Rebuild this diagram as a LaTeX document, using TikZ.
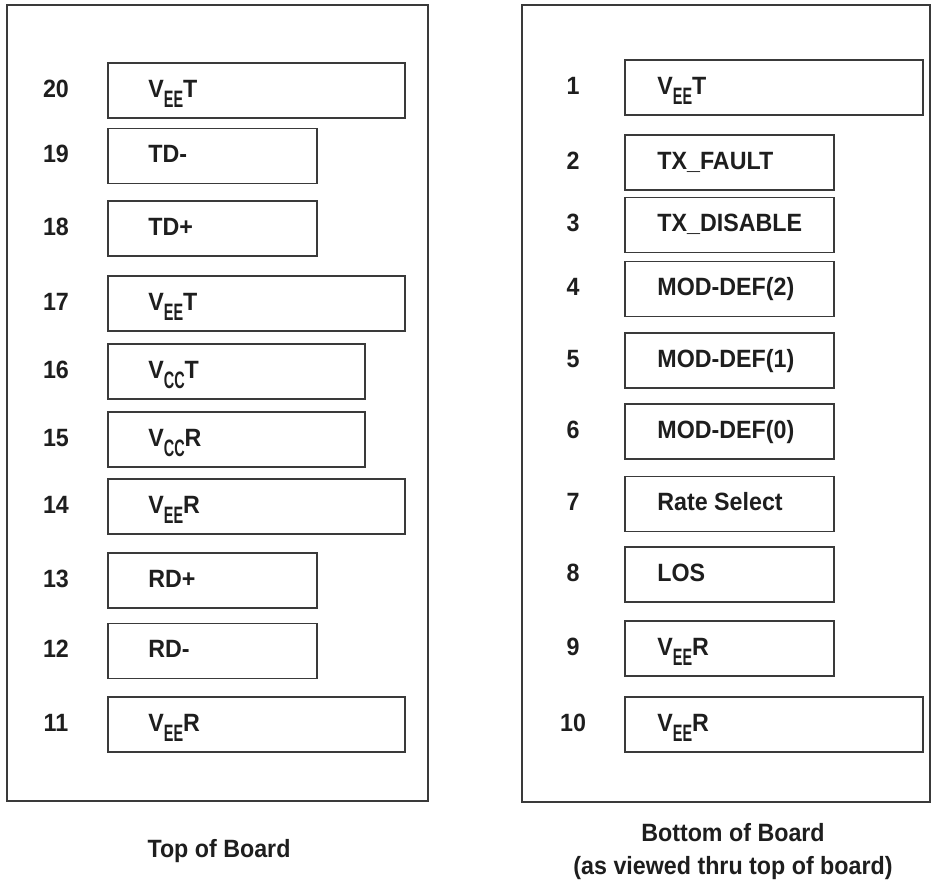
\documentclass[tikz,border=0pt]{standalone}
\usepackage{fontspec}
\setmainfont{Liberation Sans}[FakeStretch=0.93]
\usepackage{graphicx}

\definecolor{inkgray}{HTML}{1E1E1E}
\definecolor{linegray}{HTML}{3A3A3A}

\newcommand{\pinsub}[1]{\raisebox{-5pt}{\scalebox{0.62}[0.95]{#1}}}

\tikzset{
  board/.style={draw=linegray,line width=1pt},
  pinbox/.style={draw=linegray,line width=0.8pt,rectangle,anchor=west,minimum height=27.5pt,inner sep=0pt},
  pinname/.style={anchor=base west,inner sep=0pt,text=inkgray,font=\fontsize{12.5}{15}\selectfont\bfseries},
  pinnum/.style={anchor=base,inner sep=0pt,text=inkgray,font=\fontsize{12.5}{15}\selectfont\bfseries},
  caption/.style={anchor=base,inner sep=0pt,text=inkgray,font=\fontsize{12.5}{15}\selectfont\bfseries}
}

\begin{document}
\begin{tikzpicture}[x=0.5pt,y=-0.5pt]
\useasboundingbox (0,0) rectangle (932,886);

% the two boards
\draw[board] (7,5) rectangle (428,801);
\draw[board] (522,5) rectangle (930,802);

% top of board, pins 20 .. 11
\node[pinbox,minimum width=148.5pt] (p20) at (107,90.5) {};
\node[pinbox,minimum width=104.5pt] (p19) at (107,156) {};
\node[pinbox,minimum width=104.5pt] (p18) at (107,228.5) {};
\node[pinbox,minimum width=148.5pt] (p17) at (107,303.5) {};
\node[pinbox,minimum width=128.5pt] (p16) at (107,371.5) {};
\node[pinbox,minimum width=128.5pt] (p15) at (107,439.5) {};
\node[pinbox,minimum width=148.5pt] (p14) at (107,506.5) {};
\node[pinbox,minimum width=104.5pt] (p13) at (107,580.5) {};
\node[pinbox,minimum width=104.5pt] (p12) at (107,651) {};
\node[pinbox,minimum width=148.5pt] (p11) at (107,724.5) {};

\node[pinnum] (n20) at ([xshift=-25.5pt,yshift=-3.5pt]p20.west) {20};
\node[pinnum] (n19) at ([xshift=-25.5pt,yshift=-3.5pt]p19.west) {19};
\node[pinnum] (n18) at ([xshift=-25.5pt,yshift=-3.5pt]p18.west) {18};
\node[pinnum] (n17) at ([xshift=-25.5pt,yshift=-3.5pt]p17.west) {17};
\node[pinnum] (n16) at ([xshift=-25.5pt,yshift=-3.5pt]p16.west) {16};
\node[pinnum] (n15) at ([xshift=-25.5pt,yshift=-3.5pt]p15.west) {15};
\node[pinnum] (n14) at ([xshift=-25.5pt,yshift=-3.5pt]p14.west) {14};
\node[pinnum] (n13) at ([xshift=-25.5pt,yshift=-3.5pt]p13.west) {13};
\node[pinnum] (n12) at ([xshift=-25.5pt,yshift=-3.5pt]p12.west) {12};
\node[pinnum] (n11) at ([xshift=-25.5pt,yshift=-3.5pt]p11.west) {11};

\node[pinname] (t20) at ([xshift=20.5pt,yshift=-3.5pt]p20.west) {V\pinsub{EE}T};
\node[pinname] (t19) at ([xshift=20.5pt,yshift=-3.5pt]p19.west) {TD-};
\node[pinname] (t18) at ([xshift=20.5pt,yshift=-3.5pt]p18.west) {TD+};
\node[pinname] (t17) at ([xshift=20.5pt,yshift=-3.5pt]p17.west) {V\pinsub{EE}T};
\node[pinname] (t16) at ([xshift=20.5pt,yshift=-3.5pt]p16.west) {V\pinsub{CC}T};
\node[pinname] (t15) at ([xshift=20.5pt,yshift=-3.5pt]p15.west) {V\pinsub{CC}R};
\node[pinname] (t14) at ([xshift=20.5pt,yshift=-3.5pt]p14.west) {V\pinsub{EE}R};
\node[pinname] (t13) at ([xshift=20.5pt,yshift=-3.5pt]p13.west) {RD+};
\node[pinname] (t12) at ([xshift=20.5pt,yshift=-3.5pt]p12.west) {RD-};
\node[pinname] (t11) at ([xshift=20.5pt,yshift=-3.5pt]p11.west) {V\pinsub{EE}R};

% bottom of board, pins 1 .. 10
\node[pinbox,minimum width=149pt] (p1) at (624,87.5) {};
\node[pinbox,minimum width=104.5pt] (p2) at (624,162.5) {};
\node[pinbox,minimum width=104.5pt] (p3) at (624,225) {};
\node[pinbox,minimum width=104.5pt] (p4) at (624,289) {};
\node[pinbox,minimum width=104.5pt] (p5) at (624,360.5) {};
\node[pinbox,minimum width=104.5pt] (p6) at (624,431.5) {};
\node[pinbox,minimum width=104.5pt] (p7) at (624,504) {};
\node[pinbox,minimum width=104.5pt] (p8) at (624,574.5) {};
\node[pinbox,minimum width=104.5pt] (p9) at (624,648.5) {};
\node[pinbox,minimum width=149pt] (p10) at (624,724.5) {};

\node[pinnum] (n1) at ([xshift=-25.5pt,yshift=-3.5pt]p1.west) {1};
\node[pinnum] (n2) at ([xshift=-25.5pt,yshift=-3.5pt]p2.west) {2};
\node[pinnum] (n3) at ([xshift=-25.5pt,yshift=-3.5pt]p3.west) {3};
\node[pinnum] (n4) at ([xshift=-25.5pt,yshift=-3.5pt]p4.west) {4};
\node[pinnum] (n5) at ([xshift=-25.5pt,yshift=-3.5pt]p5.west) {5};
\node[pinnum] (n6) at ([xshift=-25.5pt,yshift=-3.5pt]p6.west) {6};
\node[pinnum] (n7) at ([xshift=-25.5pt,yshift=-3.5pt]p7.west) {7};
\node[pinnum] (n8) at ([xshift=-25.5pt,yshift=-3.5pt]p8.west) {8};
\node[pinnum] (n9) at ([xshift=-25.5pt,yshift=-3.5pt]p9.west) {9};
\node[pinnum] (n10) at ([xshift=-25.5pt,yshift=-3.5pt]p10.west) {10};

\node[pinname] (t1) at ([xshift=16.5pt,yshift=-3.5pt]p1.west) {V\pinsub{EE}T};
\node[pinname] (t2) at ([xshift=16.5pt,yshift=-3.5pt]p2.west) {TX\_FAULT};
\node[pinname] (t3) at ([xshift=16.5pt,yshift=-3.5pt]p3.west) {TX\_DISABLE};
\node[pinname] (t4) at ([xshift=16.5pt,yshift=-3.5pt]p4.west) {MOD-DEF(2)};
\node[pinname] (t5) at ([xshift=16.5pt,yshift=-3.5pt]p5.west) {MOD-DEF(1)};
\node[pinname] (t6) at ([xshift=16.5pt,yshift=-3.5pt]p6.west) {MOD-DEF(0)};
\node[pinname] (t7) at ([xshift=16.5pt,yshift=-3.5pt]p7.west) {Rate Select};
\node[pinname] (t8) at ([xshift=16.5pt,yshift=-3.5pt]p8.west) {LOS};
\node[pinname] (t9) at ([xshift=16.5pt,yshift=-3.5pt]p9.west) {V\pinsub{EE}R};
\node[pinname] (t10) at ([xshift=16.5pt,yshift=-3.5pt]p10.west) {V\pinsub{EE}R};

% captions
\node[caption] (topcap) at (219,858) {Top of Board};
\node[caption] (botcap) at (733,842) {Bottom of Board};
\node[caption] (viewcap) at ([yshift=-16.5pt]botcap.base) {(as viewed thru top of board)};
\end{tikzpicture}
\end{document}
